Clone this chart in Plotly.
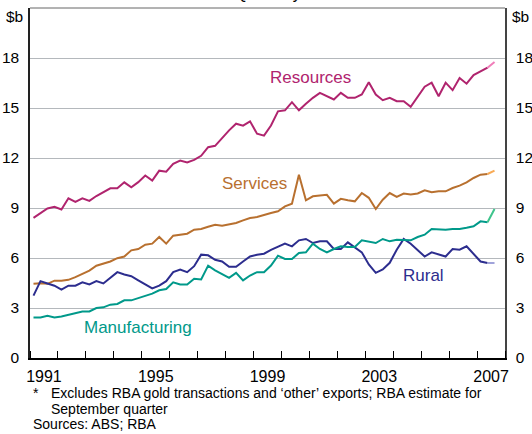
import plotly.graph_objects as go
import pandas as pd

# Quarterly observations, March quarter 1991 to September quarter 2007
quarters = pd.period_range("1991Q1", "2007Q3", freq="Q")
t = [q.year + (q.quarter - 1) * 0.25 + 0.125 for q in quarters]

resources = [8.41, 8.70, 8.97, 9.07, 8.91, 9.58, 9.37, 9.58, 9.43, 9.72,
             9.95, 10.18, 10.18, 10.54, 10.24, 10.55, 10.95, 10.64, 11.24, 11.18,
             11.65, 11.85, 11.73, 11.89, 12.13, 12.65, 12.73, 13.20, 13.66, 14.06,
             13.94, 14.20, 13.46, 13.34, 13.95, 14.80, 14.86, 15.35, 14.86, 15.25,
             15.61, 15.91, 15.71, 15.51, 15.91, 15.61, 15.61, 15.81, 16.55, 15.81,
             15.47, 15.61, 15.41, 15.41, 15.07, 15.71, 16.28, 16.52, 15.71, 16.52,
             16.07, 16.80, 16.46, 16.98, 17.22, 17.42, 17.76]

services = [4.45, 4.49, 4.45, 4.64, 4.64, 4.69, 4.85, 5.04, 5.24, 5.54,
            5.66, 5.79, 5.99, 6.09, 6.46, 6.54, 6.80, 6.86, 7.26, 6.86,
            7.34, 7.40, 7.46, 7.70, 7.74, 7.87, 8.00, 7.94, 8.02, 8.10,
            8.26, 8.40, 8.46, 8.60, 8.70, 8.80, 9.10, 9.26, 11.00, 9.46,
            9.70, 9.75, 9.79, 9.26, 9.55, 9.46, 9.40, 9.90, 9.61, 8.94,
            9.50, 9.90, 9.67, 9.87, 9.81, 9.87, 10.06, 9.94, 10.00, 10.00,
            10.20, 10.34, 10.54, 10.80, 11.00, 11.04, 11.24]

rural = [3.74, 4.61, 4.47, 4.34, 4.10, 4.34, 4.34, 4.54, 4.41, 4.61,
         4.47, 4.81, 5.15, 5.01, 4.91, 4.66, 4.41, 4.18, 4.34, 4.61,
         5.15, 5.31, 5.15, 5.51, 6.20, 6.16, 5.89, 5.79, 5.47, 5.47,
         5.79, 6.09, 6.20, 6.26, 6.49, 6.66, 6.86, 6.70, 7.06, 7.14,
         6.90, 7.00, 7.00, 6.54, 6.54, 6.94, 6.66, 6.34, 5.61, 5.11,
         5.31, 5.71, 6.50, 7.14, 6.86, 6.50, 6.09, 6.34, 6.20, 6.09,
         6.54, 6.50, 6.70, 6.26, 5.79, 5.70, 5.70]

manufacturing = [2.43, 2.43, 2.53, 2.43, 2.49, 2.59, 2.73, 2.79, 2.79, 3.00,
                 3.04, 3.20, 3.24, 3.46, 3.46, 3.60, 3.74, 3.86, 4.06, 4.14,
                 4.54, 4.41, 4.41, 4.75, 4.71, 5.54, 5.26, 5.01, 4.81, 5.11,
                 4.66, 4.95, 5.15, 5.15, 5.55, 6.14, 5.94, 5.94, 6.30, 6.34,
                 6.86, 6.54, 6.34, 6.54, 6.70, 6.66, 6.66, 7.06, 7.00, 6.90,
                 7.14, 7.00, 7.10, 7.06, 7.06, 7.26, 7.40, 7.74, 7.70, 7.70,
                 7.74, 7.74, 7.81, 7.90, 8.20, 8.14, 8.94]

series = [
    ("Resources", resources, "#B0246E", "#F07DB9"),
    ("Services", services, "#B8702F", "#F8AA55"),
    ("Rural", rural, "#2C2D8E", "#A0A3DA"),
    ("Manufacturing", manufacturing, "#00998A", "#3EC48C"),
]

year_labels = ["1991", "1995", "1999", "2003", "2007"]
y_ticks = [0, 3, 6, 9, 12, 15, 18]

FONT = "Liberation Sans, Arial, sans-serif"

fig = go.Figure()
for name, vals, col, light in series:
    fig.add_trace(go.Scatter(x=t[:-1], y=vals[:-1], mode="lines",
                             line=dict(color=col, width=2), name=name,
                             showlegend=False, hoverinfo="skip"))
    fig.add_trace(go.Scatter(x=t[-2:], y=vals[-2:], mode="lines",
                             line=dict(color=light, width=2), name=name + " estimate",
                             showlegend=False, hoverinfo="skip"))
# invisible trace to carry the right-hand axis
fig.add_trace(go.Scatter(x=t, y=resources, yaxis="y2", mode="lines",
                         line=dict(width=0), opacity=0, showlegend=False,
                         hoverinfo="skip"))

L, R, T, B = 30, 27, 8, 76
W, H = 532, 434
pw, ph = W - L - R, H - T - B

def px(xp):
    return (xp - L) / pw

def py(yp):
    return (H - B - yp) / ph

fig.update_layout(
    width=W, height=H, autosize=False, showlegend=False,
    margin=dict(l=L, r=R, t=T, b=B, pad=0, autoexpand=False),
    plot_bgcolor="white", paper_bgcolor="white",
    font=dict(family=FONT, size=16, color="#000000"),
    xaxis=dict(
        range=[1991, 2008], showgrid=False, zeroline=False, automargin=False,
        tickmode="array", tickvals=[int(y) + 0.5 for y in year_labels],
        ticktext=year_labels, ticks="", ticklabelstandoff=3,
        showline=True, linecolor="#000000", linewidth=1.5,
        minor=dict(tickmode="linear", tick0=1991, dtick=1, ticks="inside",
                   ticklen=7, tickwidth=1, tickcolor="#000000", showgrid=False),
        tickfont=dict(size=16),
    ),
    yaxis=dict(
        range=[0, 21], tickvals=y_ticks, showgrid=True, gridcolor="#B4B8BC",
        gridwidth=1, zeroline=False, ticks="", ticklabelstandoff=6, automargin=False,
        showline=True, linecolor="#222222", linewidth=1.5,
        tickfont=dict(size=15.5),
    ),
    yaxis2=dict(
        range=[0, 21], tickvals=y_ticks, overlaying="y", side="right",
        showgrid=False, zeroline=False, ticks="", ticklabelstandoff=6, automargin=False,
        showline=True, linecolor="#444444", linewidth=1.5,
        tickfont=dict(size=15.5),
    ),
    shapes=[dict(type="line", xref="paper", yref="paper", x0=0, x1=1, y0=1, y1=1,
                 line=dict(color="#666666", width=1))],
)

ann = []
ann.append(dict(text="Quarterly", x=0.5, y=py(-6), xref="paper", yref="paper",
                showarrow=False, xanchor="center", yanchor="middle",
                font=dict(size=16, color="#000000")))
ann.append(dict(text="$b", x=px(4), y=py(17), xref="paper", yref="paper",
                showarrow=False, xanchor="left", yanchor="middle", font=dict(size=15.5)))
ann.append(dict(text="$b", x=px(510), y=py(17), xref="paper", yref="paper",
                showarrow=False, xanchor="left", yanchor="middle", font=dict(size=15.5)))
labels = [("Resources", 268, 77, "#B0246E"), ("Services", 220, 183, "#B8702F"),
          ("Rural", 401, 275, "#2C2D8E"), ("Manufacturing", 82, 327, "#00998A")]
for txt, xx, yy, c in labels:
    ann.append(dict(text=txt, x=px(xx), y=py(yy), xref="paper", yref="paper",
                    showarrow=False, xanchor="left", yanchor="middle",
                    font=dict(size=17, color=c)))
foot = [("*", 31, 393), ("Excludes RBA gold transactions and \u2018other\u2019 exports; RBA estimate for", 49, 393),
        ("September quarter", 49, 408.5), ("Sources: ABS; RBA", 31, 424)]
for txt, xx, yy in foot:
    ann.append(dict(text=txt, x=px(xx), y=py(yy), xref="paper", yref="paper",
                    showarrow=False, xanchor="left", yanchor="middle",
                    font=dict(size=14, color="#000000")))
fig.update_layout(annotations=ann)

fig.write_html("out.html", config={"displayModeBar": False},
               post_script="document.body.style.margin='0';document.body.style.overflow='hidden';")
